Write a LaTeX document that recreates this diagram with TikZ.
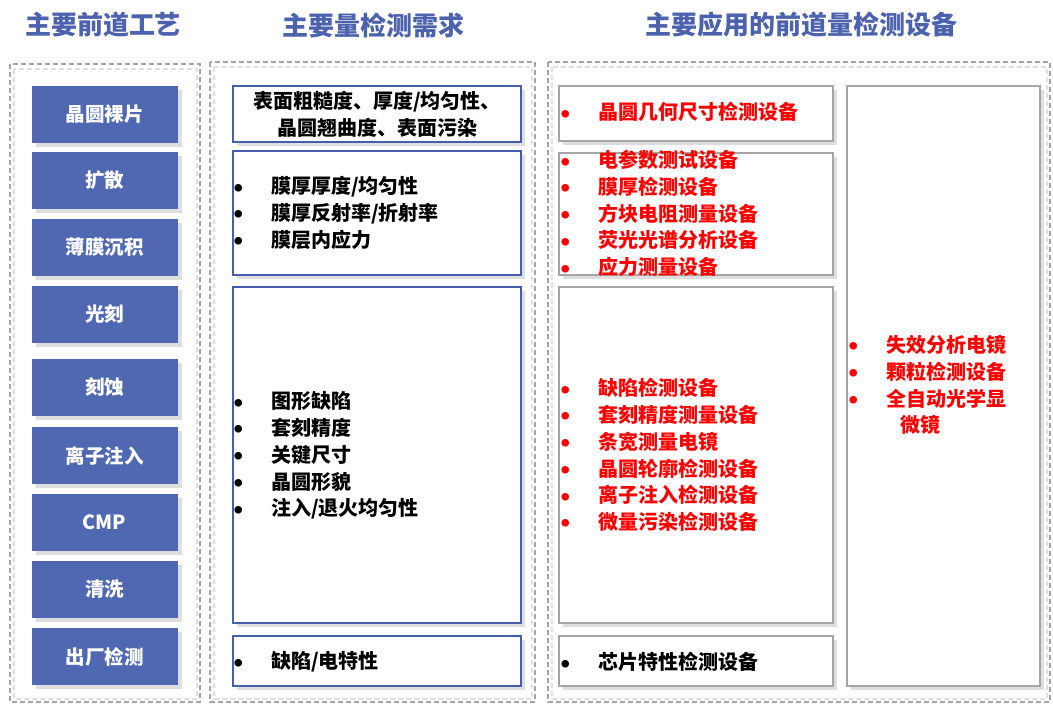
\documentclass[tikz,border=0pt]{standalone}
\usepackage{fontspec}
\setmainfont{Noto Sans CJK SC}
\usetikzlibrary{positioning,shadows}

\definecolor{procblue}{RGB}{80,103,177}
\definecolor{headblue}{RGB}{76,98,172}
\definecolor{needblue}{RGB}{72,92,176}
\definecolor{framegray}{RGB}{165,165,165}

\newcommand{\itm}[1]{\makebox[37pt][l]{\raisebox{2.6pt}{\fontsize{8.5}{8.5}\selectfont ●}}#1}

\tikzset{
  shade box/.style={drop shadow={shadow xshift=4pt, shadow yshift=-4pt, fill=black!13, opacity=1}},
  head/.style={text=headblue, font=\fontsize{26}{30}\selectfont\bfseries},
  procbox/.style={shade box, fill=procblue, minimum width=146pt, minimum height=57pt,
    text=white, font=\fontsize{19.5}{22}\selectfont\bfseries},
  needbox/.style={shade box, draw=needblue, line width=1.8pt, fill=white, inner sep=0pt},
  devbox/.style={shade box, draw=framegray, line width=2pt, fill=white, inner sep=0pt},
  items/.style={anchor=west, inner sep=0pt, align=left, font=\fontsize{20}{26.75}\selectfont\bfseries},
  frame/.style={draw=framegray, line width=2.4pt, dash pattern=on 5pt off 3pt},
  frame shade/.style={draw=black!12, line width=2.4pt, dash pattern=on 5pt off 3pt}
}

\begin{document}
\begin{tikzpicture}[x=1pt, y=-1pt]
\useasboundingbox (0,0) rectangle (1053,705);

\node[head] (h_proc) at (103,25) {主要前道工艺};
\node[head] (h_need) at (373,25) {主要量检测需求};
\node[head] (h_dev) at (801,25) {主要应用的前道量检测设备};

% dashed columns
\foreach \a/\b/\c/\d in {10/64/200/702, 210/62/535/702, 548/62/1050/702} {
  \draw[frame shade] (\a+4,\b+5) rectangle (\c-3,\d-3);
  \draw[frame] (\a,\b) rectangle (\c,\d);
}

\foreach \i/\y/\t in%
    {0/114.5/晶圆裸片,
     1/180.5/扩散,
     2/247.5/薄膜沉积,
     3/314/光刻,
     4/387.5/刻蚀,
     5/455.5/离子注入,
     6/522.5/CMP,
     7/589.5/清洗,
     8/656.5/出厂检测} {
  \node[procbox] (p_\i) at (104.5,\y) {\t};
}

% needs
\node[needbox, minimum width=288pt, minimum height=56pt] (need_a) at (377,114) {};
\node[needbox, minimum width=288pt, minimum height=124pt] (need_b) at (377,213) {};
\node[needbox, minimum width=288pt, minimum height=336pt] (need_c) at (377,455) {};
\node[needbox, minimum width=288pt, minimum height=50pt] (need_d) at (377,661) {};

\node[items, anchor=center, align=center] (t_a) at (need_a) {表面粗糙度、厚度/均匀性、\\晶圆翘曲度、表面污染};
\node[items] (t_b) at (234,213) {\itm{膜厚厚度/均匀性}\\ \itm{膜厚反射率/折射率}\\ \itm{膜层内应力}};
\node[items] (t_c) at (234,455.5) {\itm{图形缺陷}\\ \itm{套刻精度}\\ \itm{关键尺寸}\\ \itm{晶圆形貌}\\ \itm{注入/退火均匀性}};
\node[items] (t_d) at (234,662) {\itm{缺陷/电特性}};

% devices
\node[devbox, minimum width=274pt, minimum height=55pt] (dev_a) at (696,113.5) {};
\node[devbox, minimum width=274pt, minimum height=122pt] (dev_b) at (696,214) {};
\node[devbox, minimum width=274pt, minimum height=336pt] (dev_c) at (696,455) {};
\node[devbox, minimum width=274pt, minimum height=50pt] (dev_d) at (696,661) {};
\node[devbox, minimum width=193pt, minimum height=600pt] (dev_e) at (943.5,386) {};

\node[items, text=red] (s_a) at (561,112) {\itm{晶圆几何尺寸检测设备}};
\node[items, text=red] (s_b) at (561,213.5) {\itm{电参数测试设备}\\ \itm{膜厚检测设备}\\ \itm{方块电阻测量设备}\\ \itm{荧光光谱分析设备}\\ \itm{应力测量设备}};
\node[items, text=red] (s_c) at (561,455) {\itm{缺陷检测设备}\\ \itm{套刻精度测量设备}\\ \itm{条宽测量电镜}\\ \itm{晶圆轮廓检测设备}\\ \itm{离子注入检测设备}\\ \itm{微量污染检测设备}};
\node[items] (s_d) at (561,662) {\itm{芯片特性检测设备}};
\node[items, text=red] (s_e) at (849,385) {\itm{失效分析电镜}\\ \itm{颗粒检测设备}\\ \itm{全自动光学显}\\ \hspace*{51pt}微镜};

\end{tikzpicture}
\end{document}
